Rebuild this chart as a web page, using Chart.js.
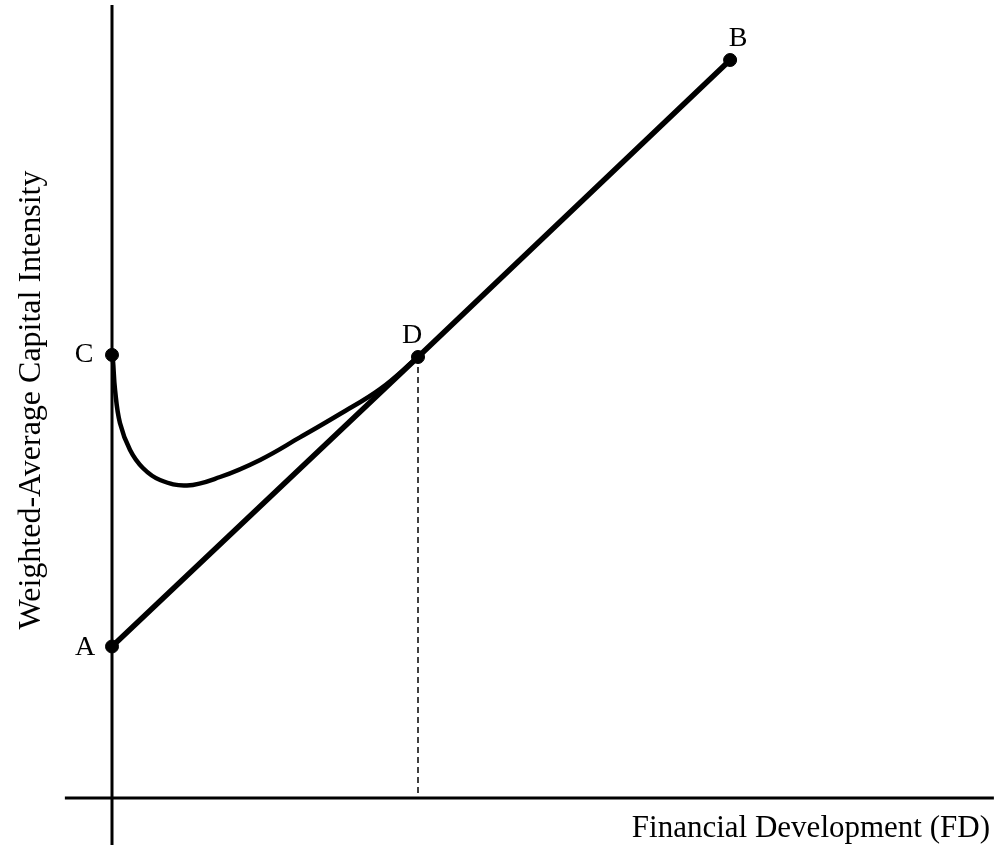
<!DOCTYPE html>
<html>
<head>
<meta charset="utf-8">
<script src="https://cdn.jsdelivr.net/npm/chart.js@4"></script>
<style>
  html, body { margin: 0; padding: 0; background: #fff; }
  #wrap { width: 994px; height: 845px; position: relative; }
</style>
</head>
<body>
<div id="wrap"><canvas id="chart"></canvas></div>
<script>
// Data (arbitrary units)
const pointNames = ['A', 'C', 'D', 'B'];
const pointX = [0, 0, 10, 20.2];
const pointY = [5.05, 14.77, 14.7, 24.6];

// Straight line A -> D -> B
const lineX = [0, 10, 20.2];
const lineY = [5.05, 14.7, 24.6];

// Curve C -> D
const curveX = [0, 0.03, 0.10, 0.26, 0.59, 1.01, 1.57, 2.45, 3.53, 4.84, 6.14, 7.45, 8.76, 10];
const curveY = [14.77, 14.6, 13.6, 12.5, 11.6, 11.0, 10.6, 10.42, 10.7, 11.27, 12.02, 12.8, 13.63, 14.7];

// Axis extents
const xAxisRange = [-1.54, 28.82];
const yAxisRange = [-1.57, 26.43];

const xTitle = 'Financial Development (FD)';
const yTitle = 'Weighted-Average Capital Intensity';

const toXY = (xs, ys) => xs.map((x, i) => ({ x: x, y: ys[i] }));

// Label offsets in pixels for each point
const labelOffsets = { A: [-27, 1], C: [-28, 0], D: [-6, -21], B: [8, -21] };

const labelPlugin = {
    id: 'labels',
    afterDatasetsDraw(chart) {
        const ctx = chart.ctx;
        const xs = chart.scales.x, ys = chart.scales.y;
        ctx.save();
        ctx.fillStyle = '#000';
        ctx.font = '28px "Liberation Serif", "Times New Roman", serif';
        ctx.textAlign = 'center';
        ctx.textBaseline = 'middle';
        pointNames.forEach((n, i) => {
            const off = labelOffsets[n];
            ctx.fillText(n, xs.getPixelForValue(pointX[i]) + off[0], ys.getPixelForValue(pointY[i]) + off[1]);
        });

        // Axis titles
        ctx.font = '31px "Liberation Serif", "Times New Roman", serif';
        ctx.textAlign = 'right';
        ctx.textBaseline = 'alphabetic';
        ctx.fillText(xTitle, 990, 837);

        ctx.font = '32px "Liberation Serif", "Times New Roman", serif';
        ctx.translate(40, 400);
        ctx.rotate(-Math.PI / 2);
        ctx.textAlign = 'center';
        ctx.fillText(yTitle, 0, 0);
        ctx.restore();
    }
};

const ctx = document.getElementById('chart').getContext('2d');
new Chart(ctx, {
    type: 'scatter',
    data: {
        datasets: [
            {
                // horizontal axis
                data: toXY(xAxisRange, [0, 0]),
                showLine: true,
                borderColor: '#000',
                borderWidth: 3,
                pointRadius: 0
            },
            {
                // vertical axis
                data: toXY([0, 0], yAxisRange),
                showLine: true,
                borderColor: '#000',
                borderWidth: 3,
                pointRadius: 0
            },
            {
                // dashed drop line from D
                data: toXY([pointX[2], pointX[2]], [pointY[2], 0]),
                showLine: true,
                borderColor: '#000',
                borderWidth: 1.5,
                borderDash: [6, 4],
                pointRadius: 0
            },
            {
                data: toXY(lineX, lineY),
                showLine: true,
                borderColor: '#000',
                borderWidth: 5.5,
                pointRadius: 0
            },
            {
                data: toXY(curveX, curveY),
                showLine: true,
                borderColor: '#000',
                borderWidth: 4.5,
                tension: 0.4,
                pointRadius: 0
            },
            {
                data: toXY(pointX, pointY),
                showLine: false,
                backgroundColor: '#000',
                borderColor: '#000',
                pointRadius: 6.5,
                pointHoverRadius: 6.5
            }
        ]
    },
    options: {
        responsive: true,
        maintainAspectRatio: false,
        animation: false,
        layout: { padding: 0, autoPadding: false },
        scales: {
            x: { type: 'linear', min: -112 / 30.6, max: (994 - 112) / 30.6, display: false },
            y: { type: 'linear', min: -(845 - 798) / 30, max: 798 / 30, display: false }
        },
        plugins: {
            legend: { display: false },
            tooltip: { enabled: false }
        }
    },
    plugins: [labelPlugin]
});
</script>
</body>
</html>
